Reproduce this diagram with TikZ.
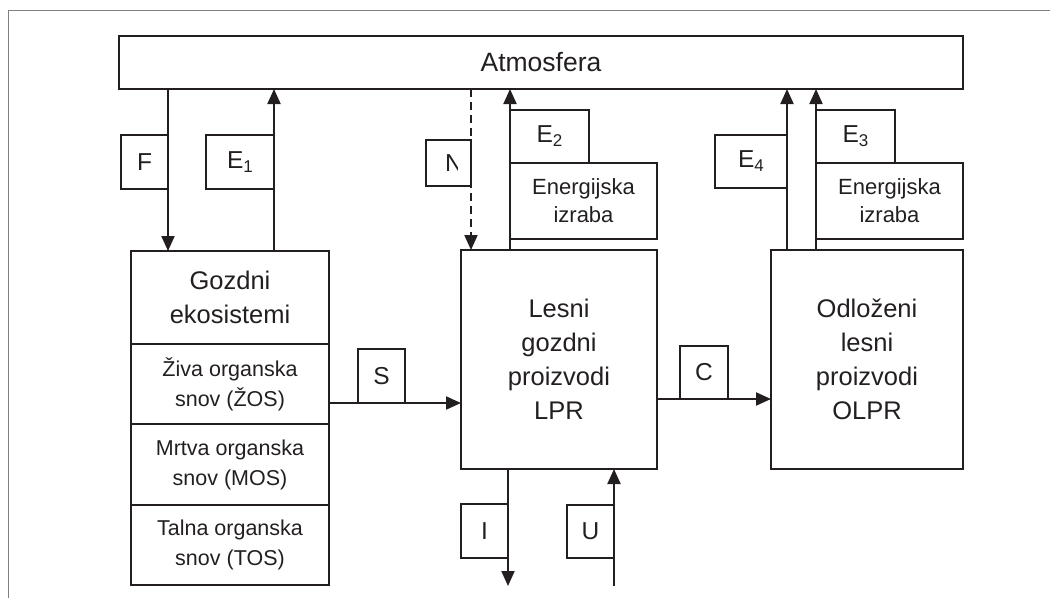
\documentclass[tikz,border=0pt]{standalone}
\usepackage{fontspec}
\setmainfont{Liberation Sans}
\usetikzlibrary{arrows.meta}
\definecolor{ink}{RGB}{35,31,32}
\newcommand\subx[1]{\raisebox{-4pt}{\fontsize{17}{17}\selectfont #1}}
\begin{document}
\begin{tikzpicture}[x=1pt,y=-1pt,
  bx/.style={draw=ink, line width=1.5pt, inner sep=0pt, outer sep=0pt, anchor=north west, align=center, text=ink},
  arr/.style={draw=ink, line width=2pt, -{Triangle[length=15pt,width=13pt]}},
  big/.style={font=\fontsize{25.5}{34}\selectfont},
  lbl/.style={font=\fontsize{24.5}{28}\selectfont},
  mid/.style={font=\fontsize{22}{28}\selectfont},
  sm/.style={font=\fontsize{21.5}{30}\selectfont},
  frame/.style={draw=gray, line width=1pt}]
\useasboundingbox (0,0) rectangle (1050,598);
\draw[frame] (8,598) -- (8,10) -- (1050,10);

\node[bx, minimum width=844pt, minimum height=53pt, font=\fontsize{26.5}{30}\selectfont] (atm) at (119,36) {Atmosfera};
\node[bx, big, minimum width=198pt, minimum height=93pt] (gozd) at (131,251) {Gozdni\\ekosistemi};
\node[bx, sm, minimum width=198pt, minimum height=80pt] (ziva) at (131,344) {Živa organska\\snov (ŽOS)};
\node[bx, sm, minimum width=198pt, minimum height=81pt] (mrtva) at (131,424) {Mrtva organska\\snov (MOS)};
\node[bx, sm, minimum width=198pt, minimum height=80pt] (talna) at (131,505) {Talna organska\\snov (TOS)};
\node[bx, big, minimum width=196pt, minimum height=219pt] (lpr) at (461,250) {Lesni\\gozdni\\proizvodi\\LPR};
\node[bx, big, minimum width=192pt, minimum height=219pt] (olpr) at (771,250) {Odloženi\\lesni\\proizvodi\\OLPR};
\node[bx, mid, minimum width=147pt, minimum height=76pt] (en1) at (510,163) {Energijska\\izraba};
\node[bx, mid, minimum width=147pt, minimum height=76pt] (en2) at (816,163) {Energijska\\izraba};
\node[bx, lbl, minimum width=79pt, minimum height=53pt] (e2) at (510,110) {E\subx{2}};
\node[bx, lbl, minimum width=79pt, minimum height=53pt] (e3) at (816,110) {E\subx{3}};
\node[bx, lbl, minimum width=72pt, minimum height=53pt] (e4) at (715,135) {E\subx{4}};
\node[bx, lbl, minimum width=47pt, minimum height=54pt] (f) at (121,135) {F};
\node[bx, lbl, minimum width=68pt, minimum height=54pt] (e1) at (206,135) {E\subx{1}};
\node[bx, minimum width=45pt, minimum height=46pt] (n) at (426,140) {};
\node[bx, lbl, minimum width=47pt, minimum height=54pt] (s) at (358,349) {S};
\node[bx, lbl, minimum width=48pt, minimum height=53pt] (c) at (680,346) {C};
\node[bx, lbl, minimum width=47pt, minimum height=54pt] (i) at (461,504) {I};
\node[bx, lbl, minimum width=47pt, minimum height=53pt] (u) at (567,505) {U};

\begin{scope}
  \clip (n.north west) rectangle ([xshift=-14pt]n.south east);
  \node[lbl, text=ink, anchor=west, inner sep=0pt] (nt) at ([xshift=19pt]n.west) {N};
\end{scope}

\draw[arr] (atm.south -| f.east) -- (gozd.north -| f.east);
\draw[arr] (gozd.north -| e1.east) -- (atm.south -| e1.east);
\draw[arr, dash pattern=on 8pt off 5pt] (atm.south -| n.east) -- (lpr.north -| n.east);
\draw[arr] (lpr.north -| e2.west) -- (atm.south -| e2.west);
\draw[arr] (olpr.north -| e4.east) -- (atm.south -| e4.east);
\draw[arr] (olpr.north -| e3.west) -- (atm.south -| e3.west);
\draw[arr] (ziva.east |- s.south) -- (lpr.west |- s.south);
\draw[arr] (lpr.east |- c.south) -- (olpr.west |- c.south);
\coordinate (iend) at (508,586);
\draw[arr] (lpr.south -| i.east) -- (iend -| i.east);
\coordinate (ustart) at (614,586);
\draw[arr] (ustart -| u.east) -- (lpr.south -| u.east);
\end{tikzpicture}
\end{document}
